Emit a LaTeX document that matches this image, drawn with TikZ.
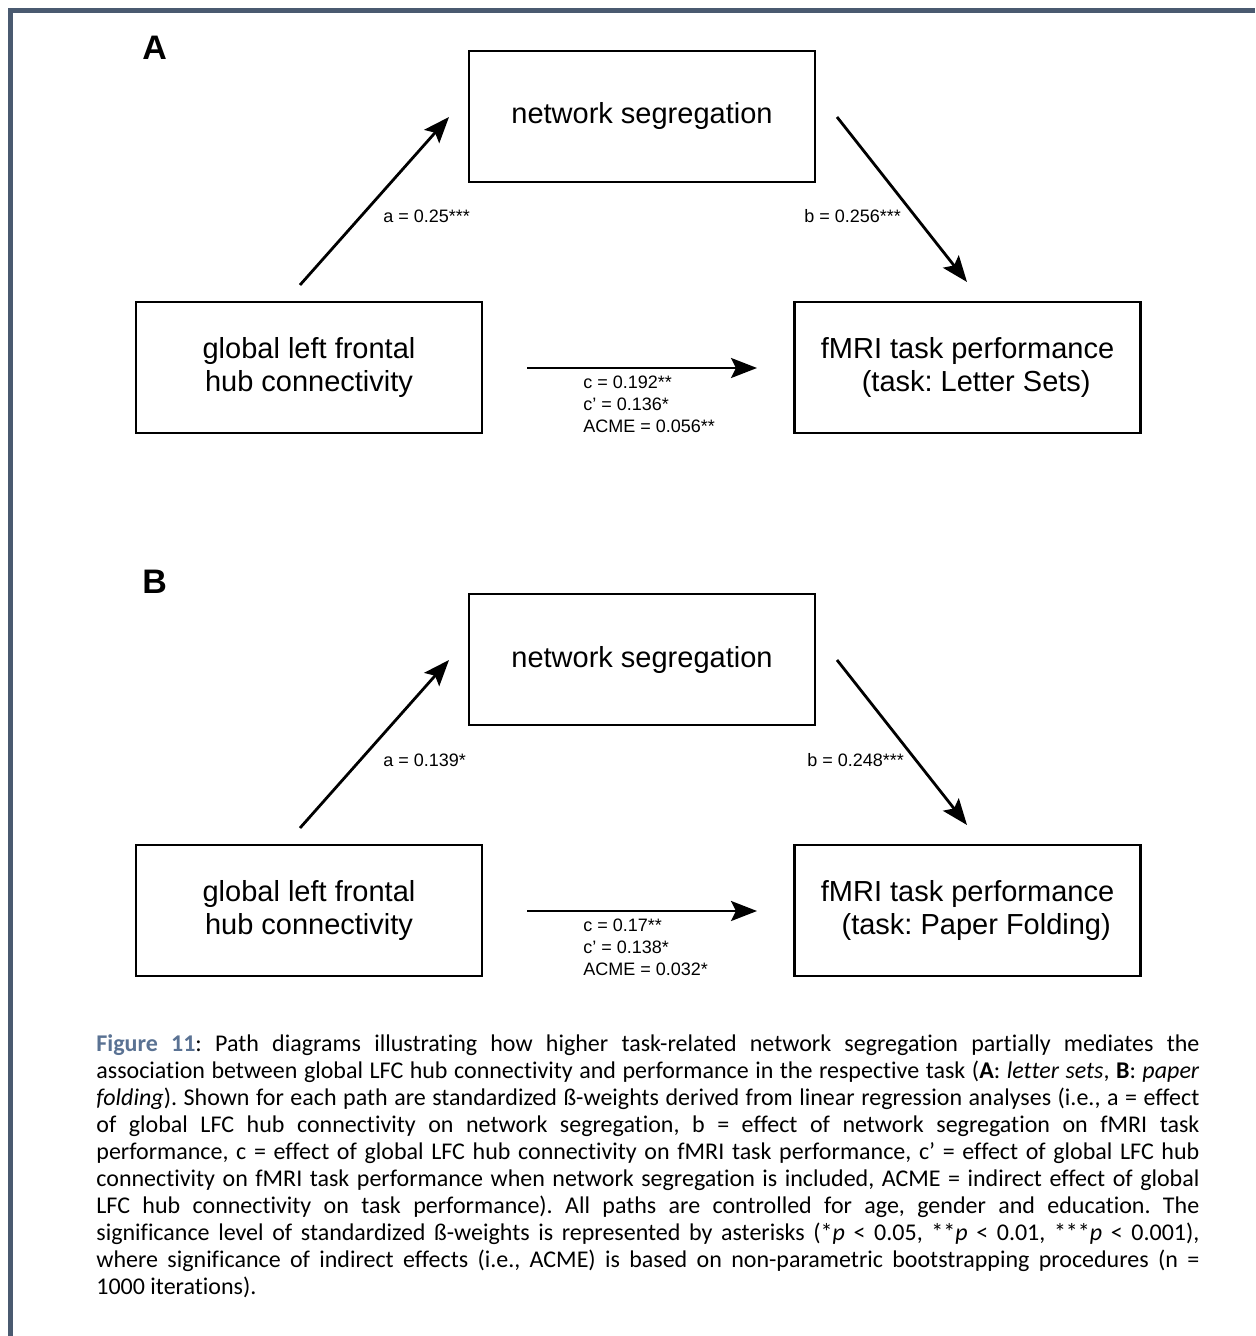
\documentclass[tikz,border=0pt]{standalone}
\usepackage{fontspec}
\setmainfont{Carlito}
\newfontfamily\diagfont{Liberation Sans}
\newfontfamily\capfont[Ligatures={NoCommon}]{Carlito}
\usetikzlibrary{arrows.meta}

\definecolor{framecol}{HTML}{4A5A70}
\definecolor{figblue}{HTML}{5A7293}

% one justified caption line, and the closing ragged one
\newcommand\capline[1]{\hbox to 551.5pt{#1}}
\newcommand\caplast[1]{\hbox to 551.5pt{#1\hfil}}

\tikzset{
  varbox/.style={draw, line width=1.3pt, minimum width=173pt, minimum height=65.5pt,
    inner sep=0pt, align=center, font=\diagfont\fontsize{14.5}{16.5}\selectfont},
  pathlabel/.style={inner sep=0pt, anchor=base west, font=\diagfont\fontsize{9}{11}\selectfont},
  panel/.style={inner sep=0pt, anchor=base west, font=\diagfont\bfseries\fontsize{17}{20}\selectfont},
  effect/.style={line width=1.4pt, -{Stealth[length=13pt, width=10pt, inset=2.5pt]}}
}

\begin{document}
\frenchspacing
\begin{tikzpicture}[x=0.5pt, y=-0.5pt]
\useasboundingbox (0,0) rectangle (1255,1336);

% frame along the top and the left edge
\fill[framecol] (8,8) rectangle (1255,13);
\fill[framecol] (8,8) rectangle (13,1336);

% ---------- panel A ----------
\node[panel] (labA) at (142,60) {A};
\node[varbox] (medA) at (642,116.5) {network segregation};
\node[varbox] (srcA) at (309,367.5) {global left frontal\\hub connectivity};
\node[varbox] (outA) at (967.5,367.5) {fMRI task performance\\\hspace{0.6em}(task: Letter Sets)};

\coordinate (aA1) at (300,285);
\coordinate (aA2) at (449,117);
\coordinate (bA1) at (837,117);
\coordinate (bA2) at (967,282);
\coordinate (cA1) at (527,368);
\coordinate (cA2) at (757,368);
\draw[effect] (aA1) -- (aA2);
\draw[effect] (bA1) -- (bA2);
\draw[effect] (cA1) -- (cA2);

\node[pathlabel] (laA) at (383,223) {a = 0.25***};
\node[pathlabel] (lbA) at (804,223) {b = 0.256***};
\node[pathlabel] (lcA) at (583,388) {c = 0.192**};
\node[pathlabel] (lcpA) at (583,410) {c’ = 0.136*};
\node[pathlabel] (lacA) at (583,432) {ACME = 0.056**};

% ---------- panel B ----------
\node[panel] (labB) at (142,593) {B};
\node[varbox] (medB) at (642,659.5) {network segregation};
\node[varbox] (srcB) at (309,910.5) {global left frontal\\hub connectivity};
\node[varbox] (outB) at (967.5,910.5) {fMRI task performance\\\hspace{0.6em}(task: Paper Folding)};

\coordinate (aB1) at (300,828);
\coordinate (aB2) at (449,660);
\coordinate (bB1) at (837,660);
\coordinate (bB2) at (967,825);
\coordinate (cB1) at (527,911);
\coordinate (cB2) at (757,911);
\draw[effect] (aB1) -- (aB2);
\draw[effect] (bB1) -- (bB2);
\draw[effect] (cB1) -- (cB2);

\node[pathlabel] (laB) at (383,766) {a = 0.139*};
\node[pathlabel] (lbB) at (807,766) {b = 0.248***};
\node[pathlabel] (lcB) at (583,931) {c = 0.17**};
\node[pathlabel] (lcpB) at (583,953) {c’ = 0.138*};
\node[pathlabel] (lacB) at (583,975) {ACME = 0.032*};

% ---------- caption ----------
\node[anchor=north west, inner sep=0pt, font=\capfont\fontsize{12}{13.5}\selectfont] (cap) at (96,1034) {\vbox{\baselineskip=13.5pt
\capline{\textcolor{figblue}{\textbf{Figure 11}}: Path diagrams illustrating how higher task-related network segregation partially mediates the}
\capline{association between global LFC hub connectivity and performance in the respective task (\textbf{A}: \textit{letter sets}, \textbf{B}: \textit{paper}}
\capline{\textit{folding}). Shown for each path are standardized ß-weights derived from linear regression analyses (i.e., a = effect}
\capline{of global LFC hub connectivity on network segregation, b = effect of network segregation on fMRI task}
\capline{performance, c = effect of global LFC hub connectivity on fMRI task performance, c’ = effect of global LFC hub}
\capline{connectivity on fMRI task performance when network segregation is included, ACME = indirect effect of global}
\capline{LFC hub connectivity on task performance). All paths are controlled for age, gender and education. The}
\capline{significance level of standardized ß-weights is represented by asterisks (*\textit{p} < 0.05, **\textit{p} < 0.01, ***\textit{p} < 0.001),}
\capline{where significance of indirect effects (i.e., ACME) is based on non-parametric bootstrapping procedures (n =}
\caplast{1000 iterations).}
}};
\end{tikzpicture}
\end{document}
